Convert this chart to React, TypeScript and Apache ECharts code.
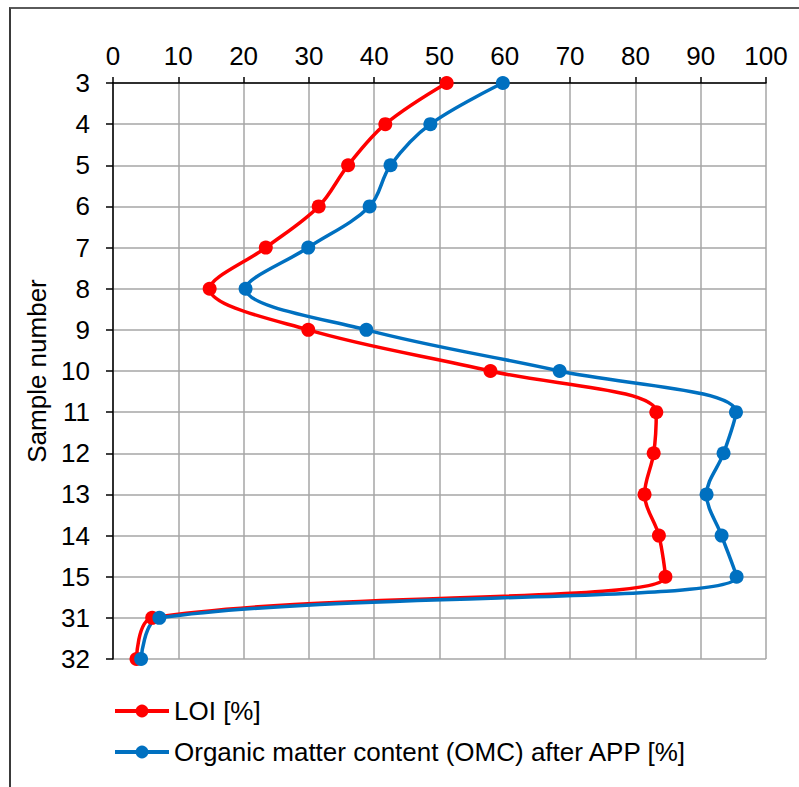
import React, { useEffect, useRef } from "react";
import * as echarts from "echarts";

const samples = ["3", "4", "5", "6", "7", "8", "9", "10", "11", "12", "13", "14", "15", "31", "32"];
const loi = [51.1, 41.7, 36.0, 31.5, 23.4, 14.8, 29.9, 57.8, 83.2, 82.8, 81.4, 83.6, 84.6, 6.0, 3.6];
const omc = [59.7, 48.6, 42.5, 39.3, 29.9, 20.3, 38.8, 68.4, 95.4, 93.5, 90.9, 93.2, 95.5, 7.1, 4.3];
const seriesNames = ["LOI [%]", "Organic matter content (OMC) after APP [%]"];

const FONT = "'Liberation Sans', Arial, sans-serif";

export default function App() {
  const ref = useRef<HTMLDivElement>(null);
  useEffect(() => {
    if (!ref.current) return;
    const chart = echarts.init(ref.current, undefined, { renderer: "svg" });
    chart.setOption({
      animation: false,
      backgroundColor: "#ffffff",
      textStyle: { fontFamily: FONT },
      grid: { left: 113, top: 83, width: 653, height: 576, containLabel: false },
      legend: {
        orient: "vertical",
        left: 108,
        top: 693,
        itemWidth: 54,
        itemHeight: 16,
        itemGap: 15,
        lineStyle: { width: 4 },
        textStyle: { fontSize: 26, color: "#000", fontFamily: FONT },
        data: seriesNames,
      },
      xAxis: {
        type: "value",
        position: "top",
        min: 0,
        max: 100,
        interval: 10,
        axisLine: { show: true, lineStyle: { color: "#000", width: 1.5 } },
        axisTick: { show: true, length: 6, lineStyle: { color: "#000", width: 1.5 } },
        axisLabel: { fontSize: 26, color: "#000", margin: 14, fontFamily: FONT },
        splitLine: { show: true, lineStyle: { color: "#a6a6a6", width: 1.5 } },
      },
      yAxis: {
        type: "category",
        data: samples,
        inverse: true,
        boundaryGap: false,
        name: "Sample number",
        nameLocation: "middle",
        nameRotate: 90,
        nameGap: 62,
        nameTextStyle: { fontSize: 26, color: "#000", fontFamily: FONT },
        axisLine: { show: true, lineStyle: { color: "#000", width: 1.5 } },
        axisTick: { show: true, length: 7, alignWithLabel: true, lineStyle: { color: "#000", width: 1.5 } },
        axisLabel: { fontSize: 26, color: "#000", margin: 23, fontFamily: FONT },
        splitLine: { show: true, lineStyle: { color: "#a6a6a6", width: 1.5 } },
      },
      series: [
        {
          name: seriesNames[0],
          type: "line",
          data: loi,
          smooth: 0.35,
          smoothConstraint: false,
          symbol: "circle",
          symbolSize: 14,
          lineStyle: { color: "#ff0000", width: 3.5 },
          itemStyle: { color: "#ff0000" },
        },
        {
          name: seriesNames[1],
          type: "line",
          data: omc,
          smooth: 0.35,
          smoothConstraint: false,
          symbol: "circle",
          symbolSize: 14,
          lineStyle: { color: "#0070c0", width: 3.5 },
          itemStyle: { color: "#0070c0" },
        },
      ],
    });
    return () => chart.dispose();
  }, []);
  return (
    <div style={{ position: "fixed", left: 0, top: 0, width: 799, height: 787, background: "#fff", overflow: "hidden" }}>
      <div ref={ref} style={{ position: "absolute", left: 0, top: 0, width: 799, height: 787 }} />
      <div
        style={{
          position: "absolute",
          left: 9,
          top: 7,
          width: 820,
          height: 820,
          borderLeft: "2px solid #3a3a3a",
          borderTop: "2px solid #5a5a5a",
          pointerEvents: "none",
        }}
      />
    </div>
  );
}
